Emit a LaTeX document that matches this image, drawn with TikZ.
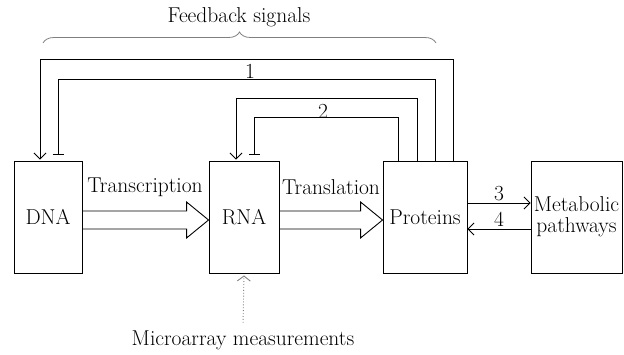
\documentclass[tikz,border=0pt]{standalone}
\usetikzlibrary{arrows.meta,decorations.pathreplacing}
\begin{document}
\begin{tikzpicture}[x=1pt, y=1pt, line width=0.9pt,
    every node/.style={font=\fontsize{21.5}{24}\selectfont},
    box/.style={draw, inner sep=0pt},
    fbarrow/.style={-{Straight Barb[length=6pt,width=12pt]}, shorten >=1pt},
    fbtee/.style={-{Bar[width=11pt]}, shorten >=6pt},
    hollow/.style={line join=miter},
    flow/.style={-{Straight Barb[length=6pt,width=12pt]}}]
    \useasboundingbox (0, 0) rectangle (624, 354);
    \node[box, minimum width=68pt, minimum height=112pt] (dna) at (48, 137) {DNA};
    \node[box, minimum width=70pt, minimum height=112pt] (rna) at (244, 137) {RNA};
    \node[box, minimum width=84pt, minimum height=112pt] (prot) at (425, 137) {Proteins};
    \node[box, minimum width=91pt, minimum height=112pt, align=center] (met) at (576.5, 137) {Metabolic\\[-3pt]pathways};
    \node (fb) at (239, 337) {Feedback signals};
    \node (micro) at (243, 14) {Microarray measurements};
    \node (trc) at (145, 167) {Transcription};
    \node (trl) at (331, 167) {Translation};
    \node (l1) at (250, 283) {1};
    \node (l2) at (323, 243) {2};
    \draw[gray, line width=0.8pt, decorate, decoration={brace, amplitude=11pt}] (43, 311) -- (436, 311);
    \draw[fbarrow] ([xshift=28pt]prot.north) -- ++(0, 101) -| ([xshift=-8pt]dna.north);
    \draw[fbtee] ([xshift=10pt]prot.north) -- ++(0, 81) -| ([xshift=10pt]dna.north);
    \draw[fbarrow] ([xshift=-8pt]prot.north) -- ++(0, 62) -| ([xshift=-8pt]rna.north);
    \draw[fbtee] ([xshift=-27pt]prot.north) -- ++(0, 43) -| ([xshift=10pt]rna.north);
    \draw[hollow] ([yshift=6pt]dna.east) -- ([xshift=-22pt, yshift=6pt]rna.west)
        -- ([xshift=-22pt, yshift=15pt]rna.west) -- ([yshift=-3pt]rna.west)
        -- ([xshift=-22pt, yshift=-21pt]rna.west) -- ([xshift=-22pt, yshift=-12pt]rna.west)
        -- ([yshift=-12pt]dna.east);
    \draw[hollow] ([yshift=6pt]rna.east) -- ([xshift=-22pt, yshift=6pt]prot.west)
        -- ([xshift=-22pt, yshift=15pt]prot.west) -- ([yshift=-3pt]prot.west)
        -- ([xshift=-22pt, yshift=-21pt]prot.west) -- ([xshift=-22pt, yshift=-12pt]prot.west)
        -- ([yshift=-12pt]rna.east);
    \draw[flow] ([yshift=14pt]prot.east) -- node[above, inner sep=2pt] {3} ([yshift=14pt]met.west);
    \draw[flow] ([yshift=-12pt]met.west) -- node[above, inner sep=2pt] {4} ([yshift=-12pt]prot.east);
    \draw[gray, dotted, -{Straight Barb[length=5pt,width=13pt]}, shorten <=4pt, shorten >=2pt] (micro.north) -- (rna.south);
\end{tikzpicture}
\end{document}
